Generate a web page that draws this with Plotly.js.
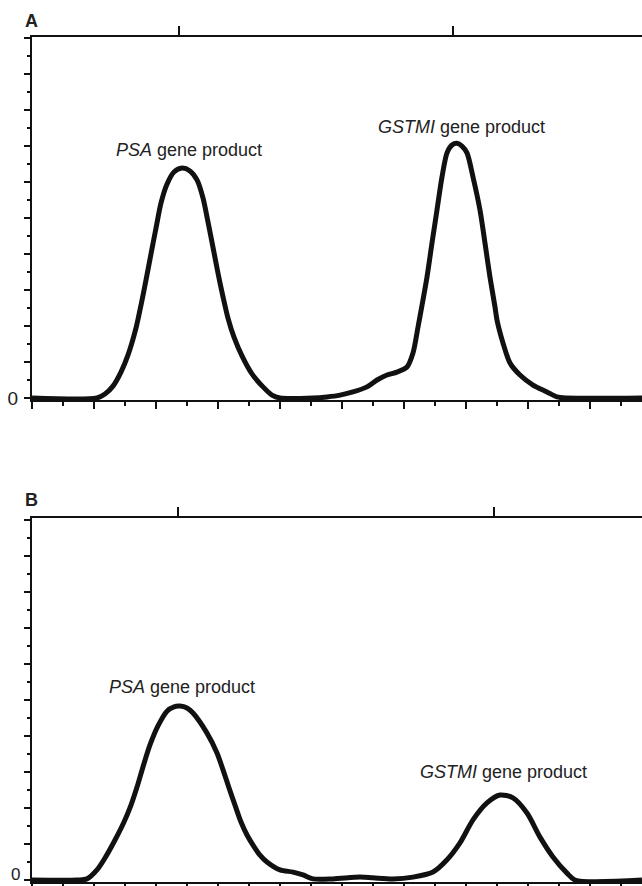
<!DOCTYPE html>
<html>
<head>
<meta charset="utf-8">
<script src="https://cdn.plot.ly/plotly-3.0.1.min.js"></script>
<style>html,body{margin:0;padding:0;background:#fff;}#chart{width:642px;height:886px;}</style>
</head>
<body>
<div id="chart"></div>
<script>
// Panel A trace (elution time, arbitrary units; signal, arbitrary units)
const timeA = [0, 1.048, 1.177, 1.306, 1.435, 1.548, 1.677, 1.758, 1.839, 1.919, 2.0, 2.081, 2.177, 2.29, 2.419, 2.548, 2.661, 2.758, 2.839, 2.919, 3.0, 3.081, 3.161, 3.258, 3.387, 3.548, 3.726, 3.871, 4.0, 4.532, 4.758, 4.968, 5.177, 5.403, 5.565, 5.726, 5.887, 6.048, 6.145, 6.226, 6.306, 6.371, 6.452, 6.532, 6.613, 6.694, 6.774, 6.855, 6.935, 7.016, 7.113, 7.226, 7.306, 7.387, 7.468, 7.5, 7.597, 7.71, 7.871, 8.081, 8.306, 8.468, 8.629, 9.839];
const signalA = [0, 0, 0.11, 0.33, 0.72, 1.19, 1.94, 2.58, 3.28, 4.0, 4.72, 5.42, 5.94, 6.28, 6.39, 6.31, 6.06, 5.56, 4.89, 4.19, 3.47, 2.81, 2.22, 1.69, 1.17, 0.67, 0.31, 0.08, 0, 0, 0.03, 0.08, 0.17, 0.31, 0.5, 0.64, 0.72, 0.86, 1.25, 1.97, 2.72, 3.36, 4.31, 5.22, 6.14, 6.81, 7.03, 7.08, 7.0, 6.81, 6.14, 5.22, 4.31, 3.36, 2.53, 2.17, 1.53, 0.97, 0.64, 0.36, 0.17, 0.03, 0, 0];
// Panel B trace
const timeB = [0, 0.726, 0.887, 1.048, 1.177, 1.339, 1.484, 1.597, 1.694, 1.79, 1.903, 2.032, 2.177, 2.29, 2.387, 2.5, 2.597, 2.823, 2.984, 3.081, 3.177, 3.274, 3.371, 3.468, 3.565, 3.677, 3.79, 4.0, 4.21, 4.371, 4.532, 4.855, 5.29, 5.5, 5.823, 6.145, 6.468, 6.694, 6.903, 7.113, 7.339, 7.548, 7.758, 7.984, 8.194, 8.403, 8.629, 8.758, 9.839];
const signalB = [0, 0, 0.03, 0.28, 0.61, 1.11, 1.61, 2.08, 2.58, 3.14, 3.75, 4.28, 4.69, 4.81, 4.83, 4.78, 4.64, 4.08, 3.53, 3.06, 2.56, 2.08, 1.61, 1.25, 0.97, 0.69, 0.5, 0.28, 0.22, 0.14, 0.03, 0.03, 0.08, 0.06, 0.03, 0.08, 0.22, 0.56, 1.03, 1.67, 2.14, 2.36, 2.28, 1.86, 1.19, 0.64, 0.19, 0, 0];
// Peak marks on the top axis
const peakMarksA = [2.371, 6.79];
const peakMarksB = [2.355, 7.45];
// Peak labels
const labelTextA = ['<i>PSA</i> gene product', '<i>GSTMI</i> gene product'];
const labelXA = [2.53, 6.935];
const labelYA = [6.89, 7.53];
const labelTextB = ['<i>PSA</i> gene product', '<i>GSTMI</i> gene product'];
const labelXB = [2.42, 7.6];
const labelYB = [5.36, 3.0];
const panelNames = ['A', 'B'];
const yMajor = [0,1,2,3,4,5,6,7,8,9,10];
const yMajorTextA = ['0','','','','','','','','','',''];
const yMajorTextB = ['','','','','','','','','','',''];
const zeroLabel = '0';

const FONT = 'Liberation Sans, Arial, sans-serif';
const XR = [0, 9.839];

const lineStyle = {color: '#111', width: 5, shape: 'spline', smoothing: 0.8};

const traces = [
  {x: timeA, y: signalA, xaxis: 'x', yaxis: 'y', mode: 'lines', line: lineStyle, hoverinfo: 'skip'},
  {x: timeB, y: signalB, xaxis: 'x2', yaxis: 'y2', mode: 'lines', line: lineStyle, hoverinfo: 'skip'},
  // empty carriers so the top (peak-mark) axes are drawn
  {x: peakMarksA, y: [0, 0], xaxis: 'x3', yaxis: 'y', mode: 'none', hoverinfo: 'skip'},
  {x: peakMarksB, y: [0, 0], xaxis: 'x4', yaxis: 'y2', mode: 'none', hoverinfo: 'skip'}
];

function bottomX(anchor) {
  return {
    anchor: anchor, domain: [0, 1], range: XR, showgrid: false, zeroline: false,
    showline: true, linecolor: '#111', linewidth: 2,
    ticks: 'outside', ticklen: 7, tickwidth: 1.5, tickcolor: '#111',
    tickmode: 'linear', tick0: 0, dtick: 1, showticklabels: false,
    minor: {ticks: 'outside', ticklen: 4, tickwidth: 1.2, tickcolor: '#111', dtick: 0.5, tick0: 0}
  };
}
function topX(over, anchor, vals) {
  return {
    overlaying: over, anchor: anchor, side: 'top', range: XR, showgrid: false, zeroline: false,
    showline: true, linecolor: '#111', linewidth: 2,
    ticks: 'outside', ticklen: 9, tickwidth: 1.5, tickcolor: '#111',
    tickmode: 'array', tickvals: vals, showticklabels: false
  };
}
function leftY(anchor, dom, range, text) {
  return {
    anchor: anchor, domain: dom, range: range, showgrid: false, zeroline: false,
    showline: true, linecolor: '#111', linewidth: 2,
    ticks: 'outside', ticklen: 6, tickwidth: 1.5, tickcolor: '#111',
    tickmode: 'array', tickvals: yMajor, ticktext: text,
    tickfont: {family: FONT, size: 19, color: '#222'},
    ticklabelstandoff: 2, ticklabeloverflow: 'allow',
    minor: {ticks: 'outside', ticklen: 3, tickwidth: 1.2, tickcolor: '#111', tickmode: 'linear', tick0: 0.5, dtick: 1}
  };
}

const annotations = [];
labelTextA.forEach((t, i) => annotations.push({text: t, x: labelXA[i], y: labelYA[i], xref: 'x', yref: 'y', showarrow: false, font: {family: FONT, size: 18, color: '#222'}}));
labelTextB.forEach((t, i) => annotations.push({text: t, x: labelXB[i], y: labelYB[i], xref: 'x2', yref: 'y2', showarrow: false, font: {family: FONT, size: 18, color: '#222'}}));
annotations.push({text: '<b>' + panelNames[0] + '</b>', xref: 'paper', yref: 'paper', x: -0.0155, y: 1.0, yshift: 16, xanchor: 'left', yanchor: 'middle', showarrow: false, font: {family: FONT, size: 18, color: '#222'}});
annotations.push({text: '<b>' + panelNames[1] + '</b>', xref: 'paper', yref: 'paper', x: -0.0155, y: 0.4308, yshift: 18, xanchor: 'left', yanchor: 'middle', showarrow: false, font: {family: FONT, size: 18, color: '#222'}});
// zero label for panel B (kept inside the page edge)
annotations.push({text: zeroLabel, xref: 'paper', yref: 'y2', x: 0, y: 0, xshift: -11, yshift: 5, borderpad: 0, xanchor: 'right', yanchor: 'middle', showarrow: false, font: {family: FONT, size: 17, color: '#222'}});

const layout = {
  width: 642, height: 886,
  margin: {l: 32, r: 0, t: 37, b: 4},
  paper_bgcolor: '#fff', plot_bgcolor: '#fff',
  showlegend: false,
  xaxis: bottomX('y'),
  xaxis2: bottomX('y2'),
  xaxis3: topX('x', 'y', peakMarksA),
  xaxis4: topX('x2', 'y2', peakMarksB),
  yaxis: leftY('x', [0.5702, 1], [-0.06, 10.03], yMajorTextA),
  yaxis2: leftY('x2', [0, 0.4308], [-0.056, 10.056], yMajorTextB),
  annotations: annotations
};

Plotly.newPlot('chart', traces, layout, {displayModeBar: false, staticPlot: true});
</script>
</body>
</html>
